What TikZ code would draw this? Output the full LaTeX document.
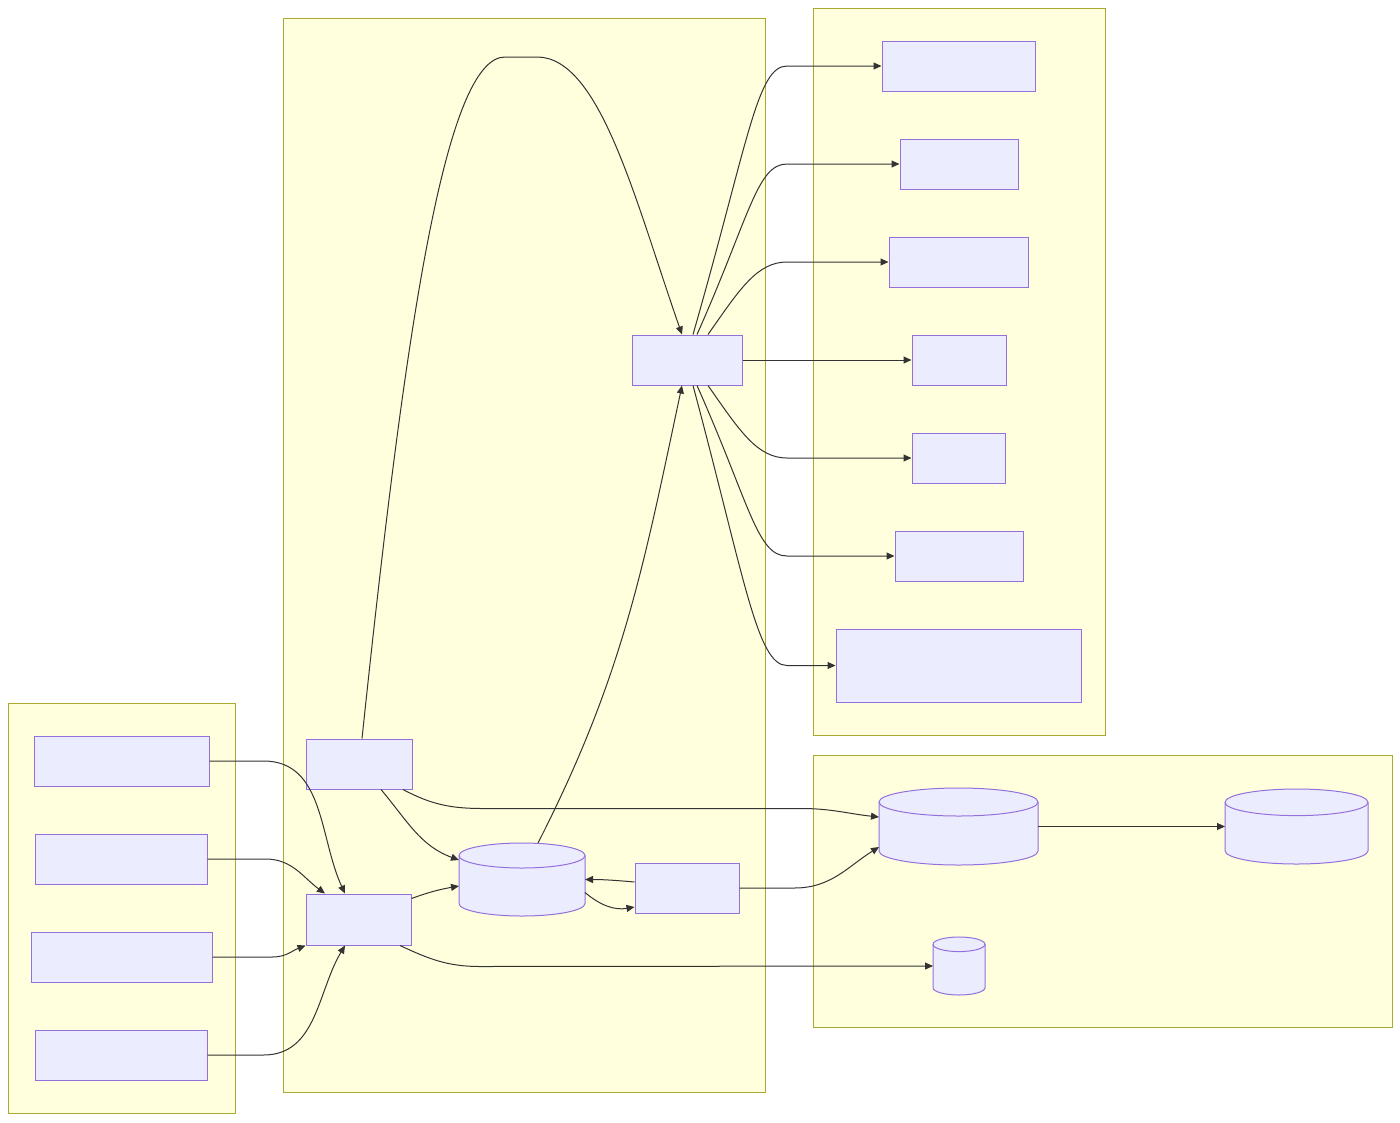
\documentclass[tikz,border=0pt]{standalone}
\usetikzlibrary{arrows.meta}
\definecolor{grpfill}{HTML}{FFFFDE}
\definecolor{grpline}{HTML}{AAAA33}
\definecolor{boxfill}{HTML}{ECECFF}
\definecolor{boxline}{HTML}{9370DB}
\definecolor{edgecol}{HTML}{333333}
\newcommand\drawstore[3]{%
\filldraw[storeline] ([yshift=-#3pt]#1.north west) -- ([yshift=#3pt]#1.south west)
arc[start angle=180,end angle=360,x radius=#2pt,y radius=#3pt] -- ([yshift=-#3pt]#1.north east)
arc[start angle=0,end angle=180,x radius=#2pt,y radius=#3pt] -- cycle;
\draw[storeline,fill=none] ([yshift=-#3pt]#1.north west) arc[start angle=180,end angle=360,x radius=#2pt,y radius=#3pt];}

\begin{document}
\begin{tikzpicture}[x=1pt,y=1pt,grp/.style 2 args={draw=grpline,fill=grpfill,line width=1pt,inner sep=0pt,minimum width=#1,minimum height=#2},box/.style 2 args={draw=boxline,fill=boxfill,line width=1pt,inner sep=0pt,minimum width=#1,minimum height=#2},store/.style 2 args={inner sep=0pt,outer sep=0pt,minimum width=#1,minimum height=#2},storeline/.style={draw=boxline,fill=boxfill,line width=1pt},flow/.style={draw=edgecol,line width=1pt,-{Triangle[length=8pt,width=7pt]}}]
\useasboundingbox (0,0) rectangle (1400,-1122);
\node[grp={227pt}{410pt}] (gsrc) at (121.5,-908) {};
\node[grp={482pt}{1074pt}] (gcore) at (524,-555) {};
\node[grp={292pt}{727pt}] (gout) at (959,-371.5) {};
\node[grp={579pt}{272pt}] (gstore) at (1102.5,-891) {};
\node[box={175pt}{50pt}] (src1) at (121.5,-761) {};
\node[box={172pt}{50pt}] (src2) at (121,-859) {};
\node[box={181pt}{50pt}] (src3) at (121.5,-957) {};
\node[box={172pt}{50pt}] (src4) at (121,-1055) {};
\node[box={106pt}{50pt}] (sched) at (359,-764) {};
\node[box={105pt}{51pt}] (ingest) at (358.5,-919.5) {};
\node[box={104pt}{50pt}] (worker) at (687,-888) {};
\node[box={110pt}{50pt}] (hub) at (687,-360) {};
\node[box={153pt}{50pt}] (out1) at (958.5,-66) {};
\node[box={118pt}{50pt}] (out2) at (959,-164) {};
\node[box={139pt}{50pt}] (out3) at (958.5,-262) {};
\node[box={94pt}{50pt}] (out4) at (959,-360) {};
\node[box={93pt}{50pt}] (out5) at (958.5,-458) {};
\node[box={128pt}{50pt}] (out6) at (959,-556) {};
\node[box={245pt}{73pt}] (out7) at (958.5,-665.5) {};
\node[store={126pt}{73pt}] (cache) at (522,-879.5) {};
\node[store={159pt}{77pt}] (db1) at (958.5,-826.5) {};
\node[store={143pt}{75pt}] (db2) at (1296.5,-826.5) {};
\node[store={52pt}{58pt}] (db3) at (959,-966) {};
\drawstore{cache}{63}{12.5}
\drawstore{db1}{79.5}{14}
\drawstore{db2}{71.5}{13.3}
\drawstore{db3}{26}{7.3}
\coordinate (bend) at (787,0);
\draw[flow] (src1.east) -- ++(54,0) to[out=0,in=115] ([xshift=-13.5]ingest.north);
\draw[flow] (src2.east) -- ++(58,0) to[out=0,in=144] ([xshift=-33.5]ingest.north);
\draw[flow] (src3.east) -- ++(60,0) to[out=0,in=201] (ingest.south west);
\draw[flow] (src4.east) -- ++(56,0) to[out=0,in=239] ([xshift=-13.5]ingest.south);
\draw[flow] ([xshift=3]sched.north) .. controls (405,-330) and (445,-57) .. (505,-57) -- (537,-57) .. controls (600,-57) and (635,-200) .. ([xshift=-5]hub.north);
\draw[flow] ([xshift=22]sched.south) to[out=-50,in=160] ([yshift=19.5]cache.west);
\draw[flow] ([xshift=44]sched.south) to[out=-28,in=180] ++(80,-19) -- ++(318,0) to[out=0,in=174] ([yshift=9.5]db1.west);
\draw[flow] ([yshift=21]ingest.east) to[out=20,in=190] ([yshift=-6.5]cache.west);
\draw[flow] ([xshift=41.5]ingest.south) to[out=-25,in=180] ++(80,-21) -- (db3.west);
\draw[flow] ([xshift=16]cache.north) to[out=63,in=-102] ([xshift=-5]hub.south);
\draw[flow] ([yshift=6]worker.west) to[out=175,in=0] (cache.east);
\draw[flow] ([yshift=-13]cache.east) to[out=-40,in=190] ([yshift=-19]worker.west);
\draw[flow] (worker.east) -- ++(55,0) to[out=0,in=212] ([yshift=-20.5]db1.west);
\draw[flow] (db1.east) -- (db2.west);
\draw[flow] ([xshift=6]hub.north) .. controls +(74:200) and +(-30,0) .. (bend |- out1.west) -- (out1.west);
\draw[flow] ([xshift=10]hub.north) .. controls +(66:130) and +(-30,0) .. (bend |- out2.west) -- (out2.west);
\draw[flow] ([xshift=21]hub.north) .. controls +(55:55) and +(-30,0) .. (bend |- out3.west) -- (out3.west);
\draw[flow] (hub.east) -- (out4.west);
\draw[flow] ([xshift=21]hub.south) .. controls +(-55:55) and +(-30,0) .. (bend |- out5.west) -- (out5.west);
\draw[flow] ([xshift=10]hub.south) .. controls +(-66:130) and +(-30,0) .. (bend |- out6.west) -- (out6.west);
\draw[flow] ([xshift=6]hub.south) .. controls +(-75:200) and +(-30,0) .. (bend |- out7.west) -- (out7.west);
\end{tikzpicture}
\end{document}
